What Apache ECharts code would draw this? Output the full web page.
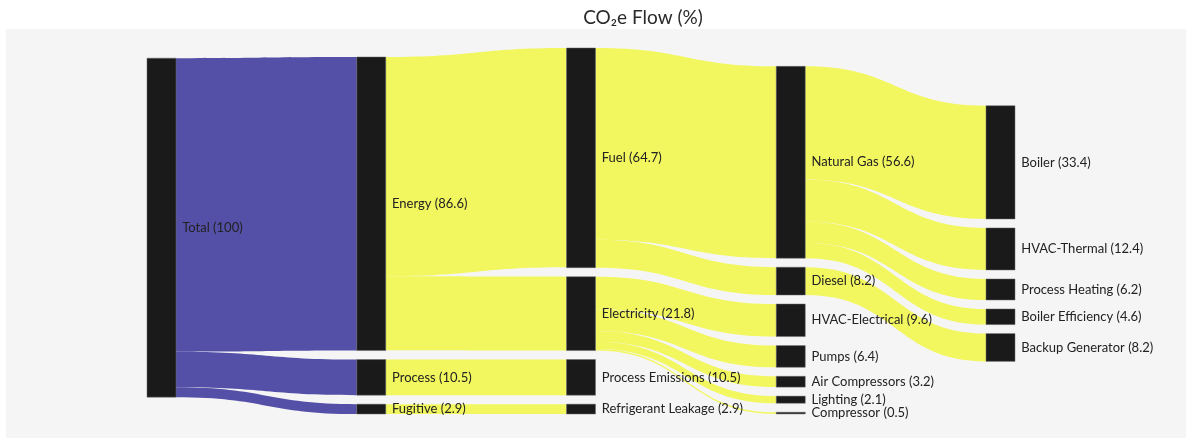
<!DOCTYPE html>
<html>
<head>
<meta charset="utf-8">
<title>CO2e Flow</title>
<script src="https://cdn.jsdelivr.net/npm/echarts@6/dist/echarts.min.js"></script>
<style>
  html, body { margin: 0; padding: 0; background: #fff; }
  .co2_flow { width: 1192px; height: 438px; }
</style>
</head>
<body>
<div class="co2_flow" id="chart"></div>
<script>
// nodes (name + value shown in label)
const nodeNames = [
  "Total", "Energy", "Process", "Fugitive",
  "Fuel", "Electricity", "Process Emissions", "Refrigerant Leakage",
  "Natural Gas", "Diesel", "HVAC-Electrical", "Pumps", "Lighting", "Air Compressors", "Compressor",
  "Boiler", "HVAC-Thermal", "Process Heating", "Boiler Efficiency", "Backup Generator"
];
const nodeValues = [
  100, 86.6, 10.5, 2.9,
  64.7, 21.8, 10.5, 2.9,
  56.6, 8.2, 9.6, 6.4, 2.1, 3.2, 0.5,
  33.4, 12.4, 6.2, 4.6, 8.2
];

// links
const linkSources = [
  "Total", "Total", "Total",
  "Energy", "Energy", "Process", "Fugitive",
  "Fuel", "Fuel",
  "Electricity", "Electricity", "Electricity", "Electricity", "Electricity",
  "Natural Gas", "Natural Gas", "Natural Gas", "Natural Gas",
  "Diesel"
];
const linkTargets = [
  "Energy", "Process", "Fugitive",
  "Fuel", "Electricity", "Process Emissions", "Refrigerant Leakage",
  "Natural Gas", "Diesel",
  "HVAC-Electrical", "Pumps", "Lighting", "Air Compressors", "Compressor",
  "Boiler", "HVAC-Thermal", "Process Heating", "Boiler Efficiency",
  "Backup Generator"
];
const linkValues = [
  86.6, 10.5, 2.9,
  64.7, 21.8, 10.5, 2.9,
  56.6, 8.2,
  9.6, 6.4, 2.1, 3.2, 0.5,
  33.4, 12.4, 6.2, 4.6,
  8.2
];

const PURPLE = "#5450a8";
const YELLOW = "#f2f75f";

const chartInstance = echarts.init(document.getElementById("chart"));

const nodes = nodeNames.map((name, i) => ({ name: name, value: nodeValues[i] }));
const links = linkSources.map((s, i) => ({
  source: s,
  target: linkTargets[i],
  value: linkValues[i],
  lineStyle: { color: s === "Total" ? PURPLE : YELLOW }
}));

chartInstance.setOption({
  backgroundColor: "#ffffff",
  title: {
    text: "CO\u2082e Flow (%)",
    left: 638,
    textAlign: "center",
    top: 3,
    textStyle: {
      fontFamily: "Lato",
      fontSize: 19,
      fontWeight: "normal",
      color: "#2a2a2a"
    }
  },
  // grey plot panel
  graphic: [{
    type: "rect",
    z: -10,
    silent: true,
    shape: { x: 6, y: 29, width: 1180, height: 409 },
    style: { fill: "#f5f5f5" }
  }],
  series: [{
    type: "sankey",
    left: 147,
    right: 177,
    top: 48,
    bottom: 24,
    nodeWidth: 29,
    nodeGap: 9,
    nodeAlign: "left",
    layoutIterations: 256, // let the relaxation settle
    draggable: false,
    emphasis: { disabled: true },
    data: nodes,
    links: links,
    itemStyle: {
      color: "#1a1a1a",
      borderColor: "#6a6a6a",
      borderWidth: 0.5
    },
    lineStyle: {
      opacity: 1,
      curveness: 0.5
    },
    label: {
      position: "right",
      distance: 6,
      fontFamily: "Lato",
      fontSize: 13,
      color: "#222222",
      formatter: "{b} ({c})"
    }
  }]
});

window.addEventListener("resize", () => chartInstance.resize());
</script>
</body>
</html>
